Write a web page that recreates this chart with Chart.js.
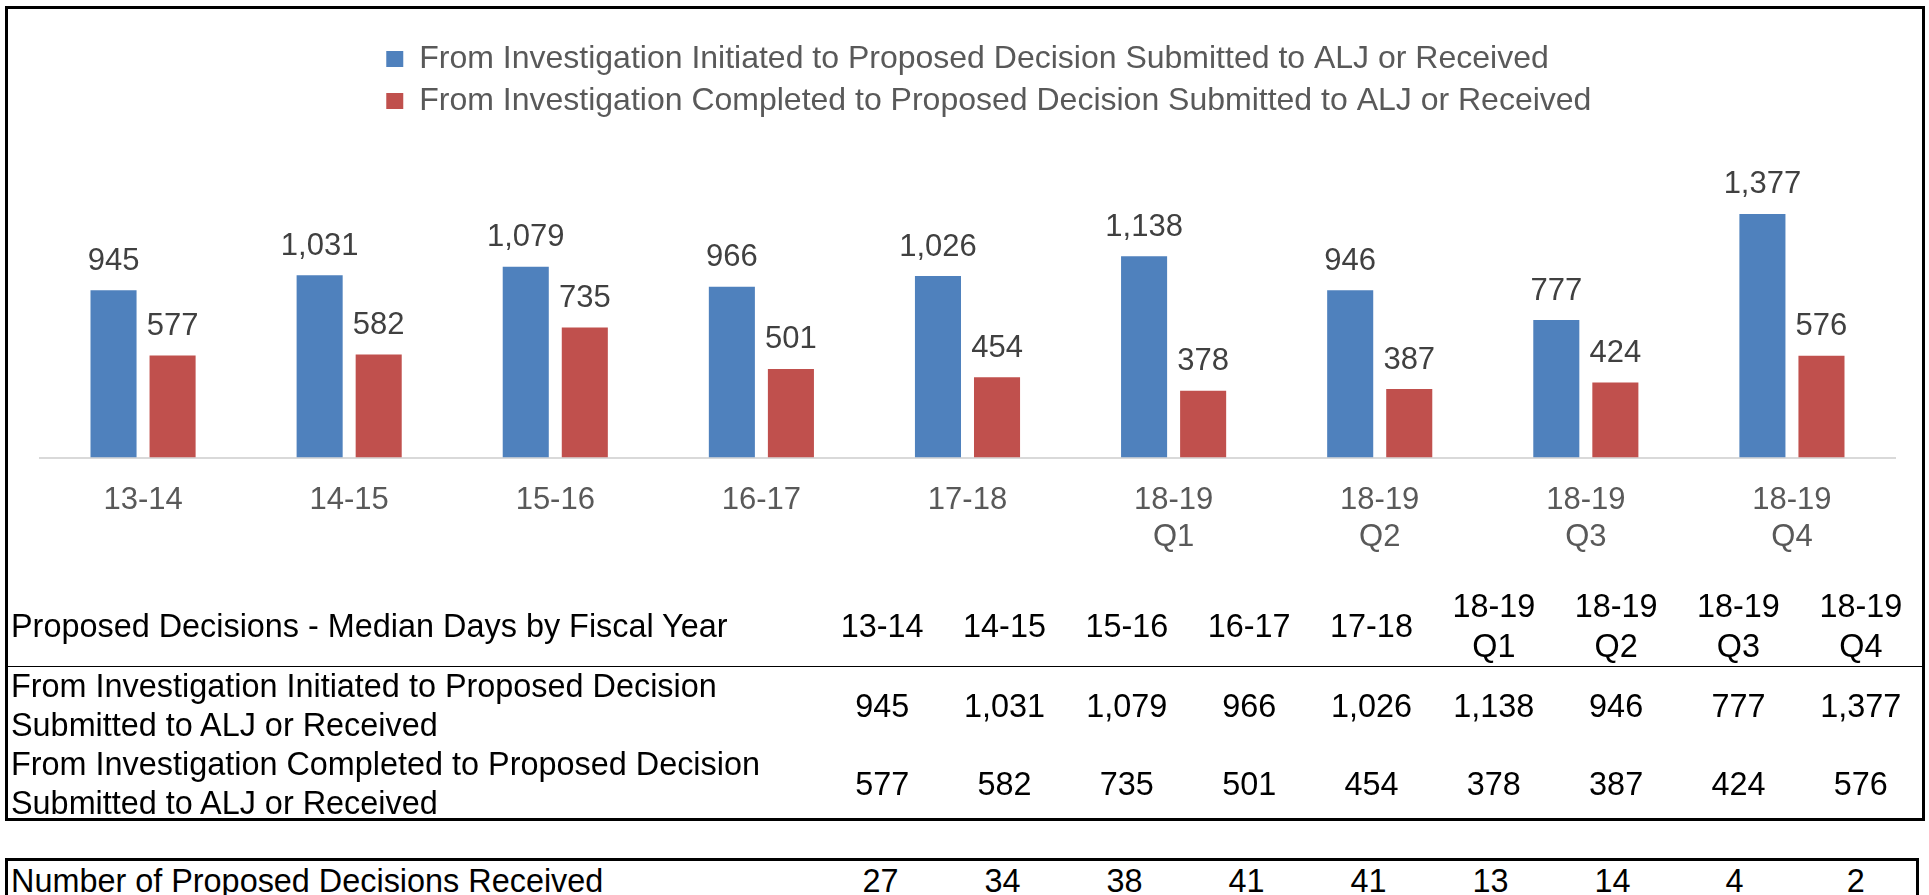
<!DOCTYPE html>
<html>
<head>
<meta charset="utf-8">
<script src="https://cdn.jsdelivr.net/npm/chart.js@4.4.0/dist/chart.umd.min.js"></script>
<style>
    body { margin: 0; background: #fff; font-family: "Liberation Sans", Arial, sans-serif; }
    #page { position: relative; width: 1929px; height: 895px; overflow: hidden; }
    #chart { position: absolute; left: 0; top: 0; }
    #frame { position: absolute; left: 5px; top: 6px; width: 1914px; height: 809px; border: 3px solid #000; pointer-events: none; }
    table { position: absolute; border-collapse: collapse; table-layout: fixed; font-size: 32.4px; color: #000; }
    td { padding: 0; text-align: center; vertical-align: middle; white-space: nowrap; }
    td.lab { text-align: left; padding-left: 3px; }
    #mainTable { left: 8px; top: 586px; width: 1914px; }
    #mainTable tr.head td { height: 80px; line-height: 40px; border-bottom: 1.5px solid #000; }
    #mainTable tr.r1 td { height: 78px; line-height: 39px; }
    #mainTable tr.r2 td { height: 75px; line-height: 39px; }
    #countTable { left: 5px; top: 858px; width: 1914px; border: 3px solid #000; }
    #countTable td { height: 40px; line-height: 40px; }
</style>
</head>
<body>
<div id="page">
    <canvas id="chart" width="1929" height="590"></canvas>
    <table id="mainTable"></table>
    <table id="countTable"></table>
    <div id="frame"></div>
</div>
<script>
    const categories = [['13-14'], ['14-15'], ['15-16'], ['16-17'], ['17-18'],
        ['18-19', 'Q1'], ['18-19', 'Q2'], ['18-19', 'Q3'], ['18-19', 'Q4']];
    const seriesNames = [
        'From Investigation Initiated to Proposed Decision Submitted to ALJ or Received',
        'From Investigation Completed to Proposed Decision Submitted to ALJ or Received'
    ];
    const initiatedDays = [945, 1031, 1079, 966, 1026, 1138, 946, 777, 1377];
    const completedDays = [577, 582, 735, 501, 454, 378, 387, 424, 576];
    const decisionsReceived = [27, 34, 38, 41, 41, 13, 14, 4, 2];

    const tableTitle = 'Proposed Decisions - Median Days by Fiscal Year';
    const rowLabels = [
        ['From Investigation Initiated to Proposed Decision', 'Submitted to ALJ or Received'],
        ['From Investigation Completed to Proposed Decision', 'Submitted to ALJ or Received']
    ];
    const countLabel = 'Number of Proposed Decisions Received';

    const colors = ['#4F81BD', '#C0504D'];
    const fontFamily = '"Liberation Sans", Arial, sans-serif';

    // value labels above the bars
    const barValueLabels = {
        id: 'barValueLabels',
        afterDatasetsDraw(chart) {
            const ctx = chart.ctx;
            ctx.save();
            ctx.font = '31px ' + fontFamily;
            ctx.fillStyle = '#404040';
            ctx.textAlign = 'center';
            ctx.textBaseline = 'middle';
            chart.data.datasets.forEach(function (ds, i) {
                chart.getDatasetMeta(i).data.forEach(function (bar, j) {
                    ctx.fillText(ds.data[j].toLocaleString('en-US'), bar.x, bar.y - 29);
                });
            });
            ctx.restore();
        }
    };

    // both legend rows start at the same x, like the original
    const legendRowsAligned = {
        id: 'legendRowsAligned',
        beforeDraw(chart) {
            const lw = chart.legend && chart.legend.lineWidths;
            if (lw) {
                for (let i = 1; i < lw.length; i++) lw[i] = lw[0];
            }
        }
    };

    new Chart(document.getElementById('chart'), {
        type: 'bar',
        data: {
            labels: categories,
            datasets: [{
                label: seriesNames[0],
                data: initiatedDays,
                backgroundColor: colors[0]
            }, {
                label: seriesNames[1],
                data: completedDays,
                backgroundColor: colors[1]
            }]
        },
        options: {
            responsive: false,
            animation: false,
            categoryPercentage: 0.573,
            barPercentage: 0.78,
            layout: { padding: { left: 40, right: 34, top: 33, bottom: 10 } },
            plugins: {
                tooltip: { enabled: false },
                legend: {
                    position: 'top',
                    labels: {
                        boxWidth: 17,
                        boxHeight: 16,
                        padding: 10,
                        color: '#595959',
                        font: { family: fontFamily, size: 32 }
                    }
                }
            },
            scales: {
                x: {
                    grid: { display: false, drawTicks: false },
                    border: { display: true, color: '#d9d9d9', width: 2 },
                    ticks: {
                        color: '#595959',
                        padding: 24,
                        maxRotation: 0,
                        autoSkip: false,
                        font: { family: fontFamily, size: 31 }
                    }
                },
                y: {
                    display: false,
                    min: 0,
                    max: 1868
                }
            }
        },
        plugins: [barValueLabels, legendRowsAligned]
    });

    // data table under the chart
    function cell(html, cls) {
        return '<td' + (cls ? ' class="' + cls + '"' : '') + '>' + html + '</td>';
    }
    let colgroup = '<colgroup><col style="width:813px">';
    for (let i = 0; i < categories.length; i++) colgroup += '<col>';
    colgroup += '</colgroup>';

    let html = colgroup + '<tr class="head">' + cell(tableTitle, 'lab');
    categories.forEach(function (c) { html += cell(c.join('<br>')); });
    html += '</tr>';
    [initiatedDays, completedDays].forEach(function (vals, r) {
        html += '<tr class="r' + (r + 1) + '">' + cell(rowLabels[r].join('<br>'), 'lab');
        vals.forEach(function (v) { html += cell(v.toLocaleString('en-US')); });
        html += '</tr>';
    });
    document.getElementById('mainTable').innerHTML = html;

    let html2 = colgroup + '<tr>' + cell(countLabel, 'lab');
    decisionsReceived.forEach(function (v) { html2 += cell(v); });
    html2 += '</tr>';
    document.getElementById('countTable').innerHTML = html2;
</script>
</body>
</html>
